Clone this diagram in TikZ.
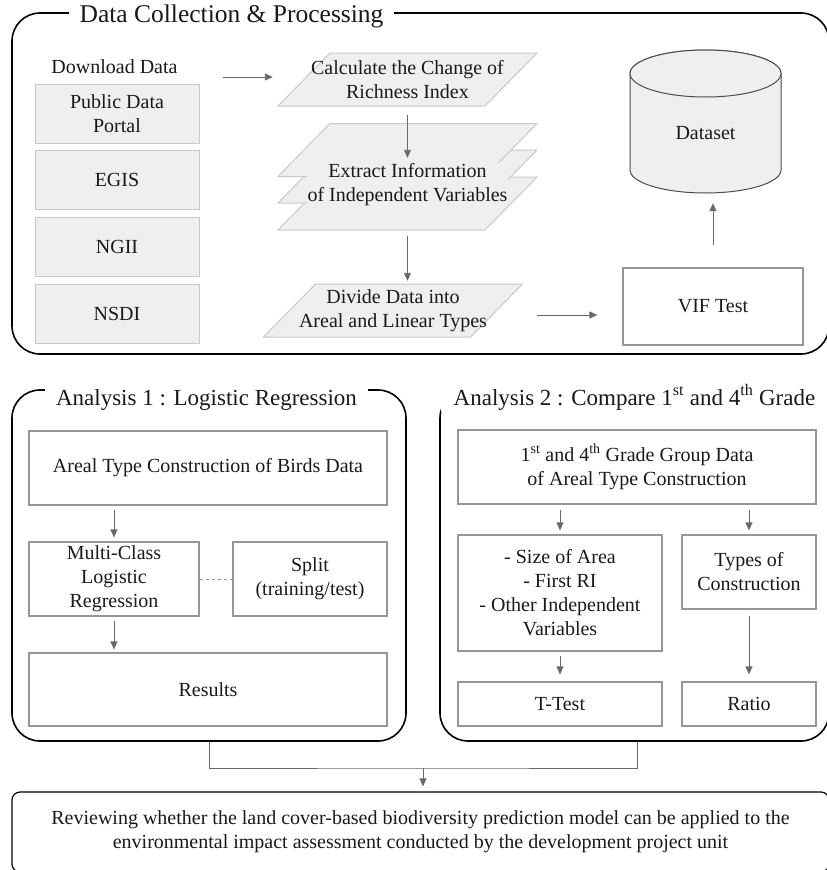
\documentclass[tikz,border=0pt]{standalone}
\usepackage{fontspec}
\setmainfont{Liberation Serif}
\usetikzlibrary{arrows.meta}
\definecolor{grisfond}{RGB}{239,239,239}
\definecolor{grisbord}{RGB}{200,200,200}
\definecolor{grisboite}{RGB}{150,150,150}
\definecolor{grisfleche}{RGB}{105,105,105}
\definecolor{encre}{RGB}{25,25,25}
\newcommand{\corps}{\fontsize{20}{24}\selectfont}
\newcommand{\grandtitre}{\fontsize{25.5}{30}\selectfont}
\newcommand{\soustitre}{\fontsize{23}{28}\selectfont}
\newcommand{\pente}{52}
\newcommand{\parallelo}[2]{\draw[para] (#1-129.5,#2+26.5) -- ++(\pente,-53) -- ++(207,0) -- ++(-\pente,53) -- cycle;}
\tikzstyle{cadre}=[draw=black, line width=1.6pt, rounded corners=28pt, inner sep=0pt]
\tikzstyle{titre}=[fill=white, inner xsep=11pt, inner ysep=2pt, anchor=base]
\tikzstyle{source}=[draw=grisbord, fill=grisfond, line width=1pt, minimum width=164, minimum height=59, align=center, inner sep=0pt]
\tikzstyle{boite}=[draw=grisboite, line width=1.2pt, align=center, inner sep=0pt]
\tikzstyle{para}=[draw=grisbord, fill=grisfond, line width=1pt]
\tikzstyle{etiquette}=[minimum width=207, minimum height=53, align=center, inner sep=0pt]
\tikzstyle{cyl}=[draw=black!70, fill=grisfond, line width=1pt]
\tikzstyle{fleche}=[draw=grisfleche, line width=0.9pt, -{Triangle[length=8pt,width=7pt]}]
\tikzstyle{lien}=[draw=grisfleche, line width=0.8pt]

\begin{document}
\begin{tikzpicture}[x=1pt, y=-1pt, every node/.style={font=\corps, text=encre}]
\useasboundingbox (0,0) rectangle (827,870);

% cadres
\node[cadre, minimum width=817, minimum height=341] (collecte) at (420.5,183.5) {};
\node[cadre, minimum width=394, minimum height=351] (analyse1) at (209,565.5) {};
\node[cadre, minimum width=389, minimum height=351] (analyse2) at (634.5,565.5) {};
\node[titre, font=\grandtitre] at (231.5,23) {Data Collection \& Processing};
\node[titre, font=\soustitre] at (206.5,405) {Analysis 1 : Logistic Regression};
\node[titre, font=\soustitre, inner xsep=13pt] at (634.5,405) {Analysis 2 : Compare 1\textsuperscript{st} and 4\textsuperscript{th} Grade};

% sources
\node[anchor=base] (dl) at (114.5,73) {Download Data};
\node[source] (pdp) at (117,113.5) {Public Data\\Portal};
\node[source] (egis) at (117,180) {EGIS};
\node[source] (ngii) at (117,247) {NGII};
\node[source] (nsdi) at (117,313.5) {NSDI};

% traitement
\parallelo{407.5}{79.5}
\node[etiquette] (calc) at (407.5,79.5) {Calculate the Change of\\Richness Index};
\parallelo{407.5}{203.5}
\parallelo{407.5}{176.5}
\parallelo{407.5}{150}
\node[etiquette, minimum height=106] (ext) at (407.5,177) {};
\node[fill=grisfond, inner sep=1pt, align=center] at (407.5,185) {Extract Information\\of Independent Variables};
\parallelo{393}{310.5}
\node[etiquette] (div) at (393,310.5) {Divide Data into\\Areal and Linear Types};
\node[boite, minimum width=180, minimum height=77] (vif) at (713,306.5) {VIF Test};

% base de donnees
\draw[cyl] (630,73.5) -- (630,170) arc[start angle=180, end angle=360, x radius=75.5pt, y radius=23pt]
  -- (781,73.5) arc[start angle=0, end angle=180, x radius=75.5pt, y radius=23.5pt] -- cycle;
\draw[cyl] (705.5,73.5) ellipse[x radius=75.5pt, y radius=23.5pt];
\node[minimum width=151, minimum height=143, inner sep=0pt] (ds) at (705.5,121.5) {};
\node at (705.5,133) {Dataset};

\draw[fleche, shorten <=42pt, shorten >=31pt] (dl.east |- 0,77) -- (calc.west |- 0,77);
\draw[fleche, shorten <=9pt, shorten >=-34pt] (calc.south) -- (ext.north);
\draw[fleche, shorten <=6pt, shorten >=3pt] (ext.south) -- (ext.south |- div.north);
\draw[fleche, shorten <=40pt, shorten >=25pt] (div.east |- 0,315) -- (vif.west |- 0,315);
\draw[fleche, shorten <=22pt, shorten >=10pt] (vif.north) -- (vif.north |- ds.south);

% analyse 1
\node[boite, minimum width=358, minimum height=74] (aire) at (208,468) {Areal Type Construction of Birds Data};
\node[boite, minimum width=170, minimum height=74] (mlr) at (114,579) {Multi-Class\\Logistic\\Regression};
\node[boite, minimum width=154, minimum height=74] (split) at (310,579) {Split\\(training/test)};
\node[boite, minimum width=358, minimum height=73] (res) at (208,689.5) {Results};
\draw[fleche, shorten <=4pt, shorten >=4pt] (mlr.north |- aire.south) -- (mlr.north);
\draw[lien, draw=grisboite, dashed] (mlr.east) -- (split.west);
\draw[fleche, shorten <=4pt, shorten >=3pt] (mlr.south) -- (mlr.south |- res.north);

% analyse 2
\node[boite, minimum width=358, minimum height=74] (groupe) at (637,467) {1\textsuperscript{st} and 4\textsuperscript{th} Grade Group Data\\of Areal Type Construction};
\node[boite, minimum width=204, minimum height=116] (vars) at (560,593) {- Size of Area\\- First RI\\- Other Independent\\Variables};
\node[boite, minimum width=134, minimum height=74] (types) at (749,572) {Types of\\Construction};
\node[boite, minimum width=204, minimum height=44] (ttest) at (560,704) {T-Test};
\node[boite, minimum width=134, minimum height=44] (ratio) at (749,704) {Ratio};
\draw[fleche, shorten <=5pt, shorten >=4pt] (vars.north |- groupe.south) -- (vars.north);
\draw[fleche, shorten <=5pt, shorten >=4pt] (types.north |- groupe.south) -- (types.north);
\draw[fleche, shorten <=4pt, shorten >=7pt] (vars.south) -- (ttest.north);
\draw[fleche, shorten <=6pt, shorten >=7pt] (types.south) -- (ratio.north);

% synthese
\node[draw=black, line width=1.2pt, rounded corners=8pt, minimum width=817, minimum height=80, align=center, inner sep=0pt] (bilan) at (420.5,832)
  {Reviewing whether the land cover-based biodiversity prediction model can be applied to the\\environmental impact assessment conducted by the development project unit};
\coordinate (jonction) at (423,768);
\draw[lien] (analyse1.south) |- (jonction) -| (groupe.south |- analyse2.south);
\draw[fleche, shorten >=5pt] (jonction) -- (jonction |- bilan.north);

\end{tikzpicture}
\end{document}
